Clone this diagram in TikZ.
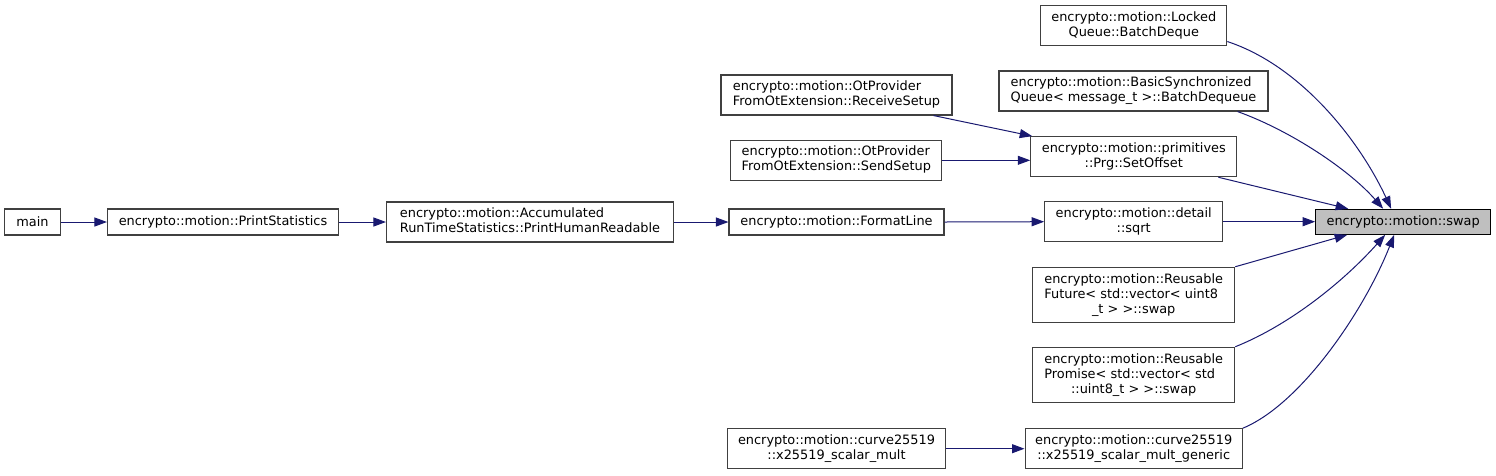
\documentclass[tikz,border=0pt]{standalone}
\usepackage{fontspec}
\setmainfont{DejaVu Sans}
\usetikzlibrary{arrows.meta,calc}
\definecolor{edgec}{HTML}{191970}
\definecolor{boxc}{HTML}{404040}
\definecolor{rootfill}{HTML}{BFBFBF}
\newcommand\dlab[2]{\begin{tabular}{@{}l@{}}#1\\\multicolumn{1}{@{}c@{}}{#2}\end{tabular}}
\begin{document}
\begin{tikzpicture}[x=1pt,y=-1pt,
  fn/.style={draw=boxc,line width=1.1pt,fill=white,inner sep=0pt,
    font=\fontsize{12.9}{15}\selectfont,anchor=center},
  rootfn/.style={fn,draw=black,fill=rootfill},
  call/.style={draw=edgec,line width=1pt,-{Triangle[length=12.5pt,width=9pt]}}]
\useasboundingbox (0,0) rectangle (1496,475);

% left chain
\node[fn,minimum width=56pt,minimum height=26pt] (main) at (32.5,222) {main};
\node[fn,minimum width=231pt,minimum height=26pt] (ps) at (223,222) {encrypto::motion::PrintStatistics};
\node[fn,minimum width=287pt,minimum height=40pt] (acc) at (530,222)
  {\dlab{encrypto::motion::Accumulated}{RunTimeStatistics::PrintHumanReadable}};

% middle column
\node[fn,minimum width=231pt,minimum height=40pt] (rs) at (836.5,95)
  {\dlab{encrypto::motion::OtProvider}{FromOtExtension::ReceiveSetup}};
\node[fn,minimum width=211pt,minimum height=40pt] (ss) at (836.3,160.3)
  {\dlab{encrypto::motion::OtProvider}{FromOtExtension::SendSetup}};
\node[fn,minimum width=215pt,minimum height=26pt] (fl) at (836.5,222) {encrypto::motion::FormatLine};
\node[fn,minimum width=217.6pt,minimum height=40pt] (xs) at (836.5,448.7)
  {\dlab{encrypto::motion::curve25519}{::x25519\_scalar\_mult}};

% right column
\node[fn,minimum width=186pt,minimum height=40pt] (lq) at (1133.8,25.7)
  {\dlab{encrypto::motion::Locked}{Queue::BatchDeque}};
\node[fn,minimum width=269pt,minimum height=40pt] (bs) at (1133.5,91)
  {\dlab{encrypto::motion::BasicSynchronized}{Queue< message\_t >::BatchDequeue}};
\node[fn,minimum width=206pt,minimum height=40pt] (so) at (1133.8,156.7)
  {\dlab{encrypto::motion::primitives}{::Prg::SetOffset}};
\node[fn,minimum width=178pt,minimum height=40pt] (sq) at (1133.7,221.7)
  {\dlab{encrypto::motion::detail}{::sqrt}};
\node[fn,minimum width=202pt,minimum height=55.4pt] (fu) at (1133.7,295)
  {\dlab{encrypto::motion::Reusable\\Future< std::vector< uint8}{\_t > >::swap}};
\node[fn,minimum width=202pt,minimum height=55.4pt] (pr) at (1133.7,375)
  {\dlab{encrypto::motion::Reusable\\Promise< std::vector< std}{::uint8\_t > >::swap}};
\node[fn,minimum width=217.3pt,minimum height=40pt] (gen) at (1133.7,448.7)
  {\dlab{encrypto::motion::curve25519}{::x25519\_scalar\_mult\_generic}};

% root
\node[rootfn,minimum width=175pt,minimum height=25pt] (swap) at (1403.2,221.8) {encrypto::motion::swap};

% straight edges
\draw[call] (main.east) -- (ps.west);
\draw[call] (ps.east) -- (acc.west);
\draw[call] (acc.east) -- (fl.west);
\draw[call] (fl.east) -- (sq.west);
\draw[call] ($(rs.south east)+(-19,0)$) -- ($(so.north west)+(2,0)$);
\draw[call] (ss.east) -- (ss.east -| so.west);
\draw[call] (xs.east) -- (gen.west);
\draw[call] (sq.east) -- (sq.east -| swap.west);
\draw[call] ($(so.south east)+(-19,0)$) -- ($(swap.north west)+(33,0)$);
\draw[call] (fu.north east) -- ($(swap.south west)+(32,0)$);

% curved edges
\draw[call] ($(lq.south east)+(0,-4.7)$) .. controls +(73,24) and +(-32,-69) .. ($(swap.north west)+(76,0)$);
\draw[call] ($(bs.south east)+(-31,0)$) .. controls +(53,19) and +(-34,-39) .. ($(swap.north west)+(68,0)$);
\draw[call] (pr.north east) .. controls +(55,-22) and +(-41,46) .. ($(swap.south west)+(70,0)$);
\draw[call] (gen.north east) .. controls +(58,-24) and +(-30,76) .. ($(swap.south west)+(79,0)$);
\end{tikzpicture}
\end{document}
